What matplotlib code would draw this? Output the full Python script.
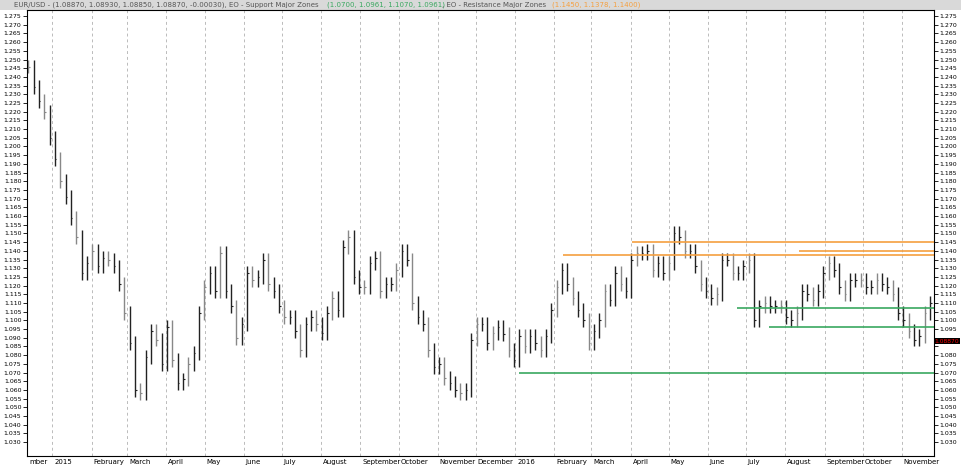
import matplotlib
matplotlib.use("Agg")
import matplotlib.pyplot as plt
import numpy as np
import pandas as pd

closes = [1.246,1.234,1.226,1.220,1.205,1.193,1.180,1.171,1.159,1.148,1.127,1.133,1.140,1.131,1.136,1.135,
          1.131,1.121,1.104,1.087,1.060,1.058,1.079,1.094,1.089,1.075,1.096,1.077,1.064,1.066,1.075,1.081,
          1.104,1.119,1.127,1.117,1.139,1.117,1.108,1.090,1.098,1.127,1.123,1.125,1.135,1.121,1.117,1.108,
          1.102,1.102,1.094,1.083,1.098,1.102,1.098,1.093,1.104,1.113,1.106,1.142,1.148,1.125,1.119,1.119,
          1.133,1.136,1.117,1.121,1.121,1.129,1.140,1.135,1.110,1.102,1.098,1.083,1.073,1.075,1.067,1.064,
          1.060,1.058,
          1.060,1.089,1.098,1.098,1.087,1.093,1.096,1.092,1.083,1.077,1.091,1.085,1.091,1.087,1.083,1.091,
          1.106,1.119,1.129,1.121,1.113,1.106,1.100,1.087,1.094,1.100,1.117,1.112,1.127,1.121,1.117,1.135,
          1.139,1.139,1.140,1.129,1.133,1.127,1.133,1.150,1.148,1.140,1.140,1.131,1.121,1.117,1.113,1.115,
          1.135,1.135,1.127,1.127,1.131,1.135,1.100,1.108,1.110,1.108,1.108,1.108,1.102,1.100,1.104,1.117,
          1.115,1.112,1.117,1.127,1.133,1.129,1.119,1.115,1.123,1.123,1.123,1.119,1.119,1.123,1.121,1.119,
          1.115,1.104,1.100,1.094,1.089,1.091,1.104,1.110,1.104,1.091,1.087]
start_date = "2014-12-13"
month_labels = ["mber","2015","February","March","April","May","June","July","August","September","October",
                "November","December","2016","February","March","April","May","June","July","August",
                "September","October","November"]
support_levels = [(1.1070,"2016-06-24"),(1.0961,"2016-07-19"),(1.0700,"2016-01-04")]
resistance_levels = [(1.1450,"2016-04-02"),(1.1400,"2016-08-12"),(1.1378,"2016-02-08")]
price_ticks = [1.030 + 0.005*i for i in range(50)]
last_price = 1.08870

base = pd.Timestamp("2015-01-01")
dates = pd.date_range(start_date, periods=len(closes), freq="101h")
xd = np.array([(d - base).total_seconds()/86400 for d in dates])
c = np.array(closes)
prev = np.concatenate([[c[0]], c[:-1]])
highs = np.maximum(prev, c) + 0.004
lows = np.minimum(prev, c) - 0.004

fig = plt.figure(figsize=(9.61, 4.67), dpi=100)
ax = fig.add_axes([27/961, 11/467, 907/961, 446/467])
x0 = (pd.Timestamp("2014-12-12") - base).days
x1 = x0 + 907/1.268
ax.set_xlim(x0, x1)
ax.set_ylim(1.022, 1.2785)

months = pd.date_range("2014-12-01", periods=24, freq="MS")
mx = [(m - base).days for m in months]
for m in mx[1:]:
    ax.axvline(m, color="#bbbbbb", ls=(0,(3,3)), lw=0.7, zorder=0)

cols = ["#222222" if i % 3 else "#888888" for i in range(len(c))]
ax.vlines(xd, lows, highs, colors=cols, lw=1.0)
ax.hlines(c, xd, xd + 1.2, colors=cols, lw=0.8)

for lvl, d in support_levels:
    ax.hlines(lvl, (pd.Timestamp(d)-base).days, x1, color="#3aa860", lw=1.2)
for lvl, d in resistance_levels:
    ax.hlines(lvl, (pd.Timestamp(d)-base).days, x1, color="#f5a040", lw=1.2)

ax.set_yticks(price_ticks)
ax.set_yticklabels([f"{v:.3f}" for v in price_ticks], fontsize=4.5)
ax.tick_params(axis="y", which="both", left=True, right=True, labelleft=True, labelright=True,
               length=3, width=0.6, pad=1)
ax.set_xticks(mx[1:])
ax.set_xticklabels([])
ax.tick_params(axis="x", length=0)
for m, lab in zip(mx, month_labels):
    xx = max(m, x0)
    ax.text(xx + 1.5, 1.0185, lab, fontsize=5, ha="left", va="center", clip_on=False)
for sp in ax.spines.values():
    sp.set_linewidth(0.8)

ax.text(x1 + 0.5, 1.0880, f"{last_price:.5f}", fontsize=4.3, color="red", ha="left", va="center",
        bbox=dict(facecolor="black", edgecolor="none", pad=0.3), clip_on=False, zorder=5)
ax.yaxis.get_major_ticks()[11].label2.set_visible(False)
ax.yaxis.get_major_ticks()[12].label2.set_visible(False)

fig.patches.append(plt.Rectangle((0, 457/467), 1, 10/467, transform=fig.transFigure,
                                 facecolor="#d9d9d9", edgecolor="none", zorder=-1))
fig.text(0.015, 462/467, "EUR/USD - (1.08870, 1.08930, 1.08850, 1.08870, -0.00030), EO - Support Major Zones",
         fontsize=5, color="#555555", va="center")
fig.text(0.34, 462/467, "(1.0700, 1.0961, 1.1070, 1.0961)", fontsize=5, color="#3aa860", va="center")
fig.text(0.46, 462/467, ", EO - Resistance Major Zones", fontsize=5, color="#555555", va="center")
fig.text(0.574, 462/467, "(1.1450, 1.1378, 1.1400)", fontsize=5, color="#f5a040", va="center")
fig.savefig("out.png", dpi=100)
